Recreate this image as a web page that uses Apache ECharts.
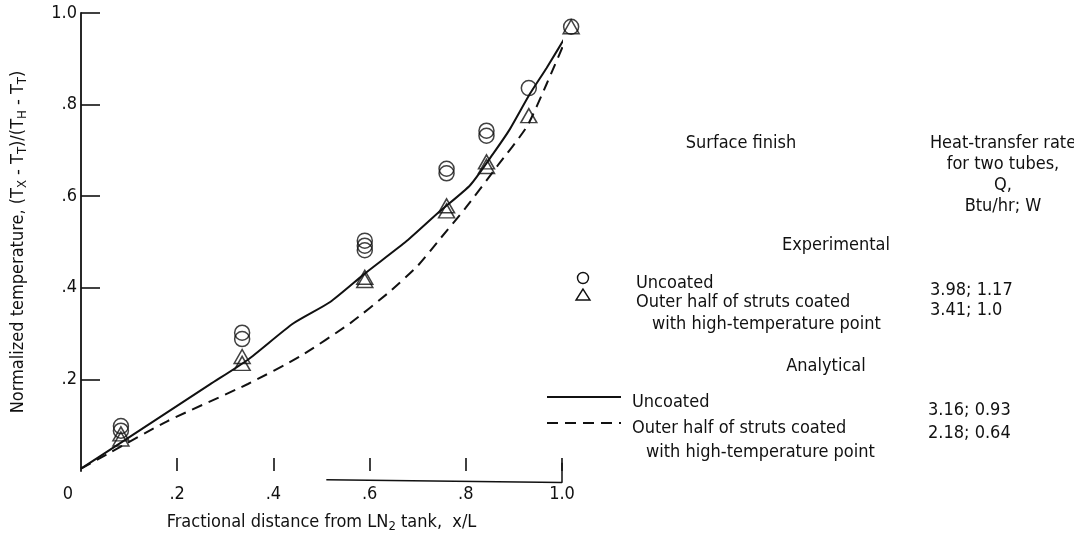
<!DOCTYPE html>
<html>
<head>
<meta charset="utf-8">
<script src="https://cdn.jsdelivr.net/npm/echarts@6/dist/echarts.min.js"></script>
<style>
  html, body { margin: 0; padding: 0; background: #fff; }
  #chart { width: 1074px; height: 538px; }
</style>
</head>
<body>
<div id="chart"></div>
<script>
// ---- data ----
const xTicks = [0, 0.2, 0.4, 0.6, 0.8, 1.0];
const yTicks = [0.2, 0.4, 0.6, 0.8, 1.0];

// Experimental, uncoated (circles): [x/L, normalized temperature]
const expUncoated = [
  [0.083, 0.098], [0.083, 0.088],
  [0.335, 0.302], [0.335, 0.288],
  [0.590, 0.503], [0.590, 0.492], [0.590, 0.482],
  [0.760, 0.660], [0.760, 0.650],
  [0.843, 0.743], [0.843, 0.732],
  [0.931, 0.836],
  [1.019, 0.970]
];
// Experimental, outer half coated (triangles)
const expCoated = [
  [0.083, 0.081], [0.083, 0.070],
  [0.335, 0.250], [0.335, 0.235],
  [0.590, 0.423], [0.590, 0.416],
  [0.760, 0.579], [0.760, 0.568],
  [0.843, 0.675], [0.843, 0.665],
  [0.931, 0.776],
  [1.019, 0.970]
];
// Analytical, uncoated (solid curve)
const anaUncoated = [
  [0, 0.005], [0.095, 0.070], [0.268, 0.189], [0.347, 0.243], [0.441, 0.322],
  [0.518, 0.369], [0.590, 0.431], [0.677, 0.502], [0.746, 0.567], [0.809, 0.624],
  [0.857, 0.693], [0.892, 0.747], [0.933, 0.823], [0.968, 0.880], [1.017, 0.965]
];
// Analytical, outer half coated (dashed curve)
const anaCoated = [
  [0, 0.005], [0.060, 0.040], [0.178, 0.108], [0.347, 0.190], [0.455, 0.250],
  [0.560, 0.323], [0.640, 0.390], [0.700, 0.448], [0.745, 0.505], [0.800, 0.575],
  [0.865, 0.665], [0.927, 0.752], [0.968, 0.845], [1.017, 0.965]
];
// partial x-axis base line drawn in the original
const xBaseline = [[0.51, -0.019], [1.0, -0.025], [1.0, 0.018]];

// legend / annotation texts
const legendHeader = ['Surface finish'];
const rateHeader = ['Heat-transfer rate', 'for two tubes,', 'Q,', 'Btu/hr; W'];
const groupTitles = ['Experimental', 'Analytical'];
const entryNames = ['Uncoated', 'Outer half of struts coated', 'with high-temperature point'];
const expRates = ['3.98; 1.17', '3.41; 1.0'];
const anaRates = ['3.16; 0.93', '2.18; 0.64'];

// ---- chart ----
const FONT = "'Liberation Sans Narrow', 'DejaVu Sans Condensed', 'Liberation Sans', sans-serif";
const FS = 18;
const chart = echarts.init(document.getElementById('chart'), null, { renderer: 'canvas' });

function tickLabel(v) {
  if (Math.abs(v) < 1e-9) return '{z|0}';
  if (Math.abs(v - 1) < 1e-9) return '1.0';
  return String(+v.toFixed(1)).replace(/^0/, '');
}

function txt(text, x, y, align) {
  return {
    type: 'text', x: x, y: y, silent: true,
    style: { text: text, font: FS + 'px ' + FONT, fill: '#111', align: align || 'left', verticalAlign: 'middle' }
  };
}

const graphics = [];
graphics.push(txt(legendHeader[0], 741, 143, 'center'));
rateHeader.forEach((t, i) => graphics.push(txt(t, 1003, 143 + i * 21, 'center')));
graphics.push(txt(groupTitles[0], 836, 245, 'center'));
graphics.push(txt(entryNames[0], 636, 283));
graphics.push(txt(entryNames[1], 636, 302));
graphics.push(txt(entryNames[2], 652, 324));
graphics.push(txt(expRates[0], 930, 290));
graphics.push(txt(expRates[1], 930, 310));
graphics.push(txt(groupTitles[1], 826, 366, 'center'));
graphics.push(txt(entryNames[0], 632, 402));
graphics.push(txt(entryNames[1], 632, 428));
graphics.push(txt(entryNames[2], 646, 452));
graphics.push(txt(anaRates[0], 928, 410));
graphics.push(txt(anaRates[1], 928, 433));
// legend symbols
graphics.push({ type: 'circle', shape: { cx: 583, cy: 278, r: 5.5 }, style: { fill: 'none', stroke: '#111', lineWidth: 1.4 }, silent: true });
graphics.push({ type: 'polygon', shape: { points: [[583, 289], [576, 300], [590, 300]] }, style: { fill: 'none', stroke: '#111', lineWidth: 1.4 }, silent: true });
graphics.push({ type: 'line', shape: { x1: 547, y1: 397, x2: 621, y2: 397 }, style: { stroke: '#111', lineWidth: 2 }, silent: true });
graphics.push({ type: 'line', shape: { x1: 547, y1: 423, x2: 621, y2: 423 }, style: { stroke: '#111', lineWidth: 2, lineDash: [11, 7] }, silent: true });

const option = {
  backgroundColor: '#ffffff',
  animation: false,
  textStyle: { fontFamily: FONT },
  grid: { left: 81, top: 13, width: 481, height: 462.5, containLabel: false },
  xAxis: {
    type: 'value', min: 0, max: 1.0, interval: 0.2,
    axisLine: { show: false },
    axisTick: { show: true, inside: true, length: 13, customValues: xTicks.slice(1), lineStyle: { color: '#111', width: 1.6 } },
    axisLabel: {
      show: true, margin: 14, color: '#111', fontSize: FS, fontFamily: FONT,
      customValues: xTicks,
      formatter: tickLabel,
      rich: { z: { fontSize: FS, fontFamily: FONT, color: '#111', padding: [0, 26, 0, 0] } }
    },
    splitLine: { show: false },
    name: 'Fractional distance from LN{sub|2} tank,  x/L',
    nameLocation: 'middle', nameGap: 40,
    nameTextStyle: {
      color: '#111', fontSize: FS, fontFamily: FONT,
      rich: { sub: { fontSize: 13, fontFamily: FONT, color: '#111', padding: [9, 0, 0, 0] } }
    }
  },
  yAxis: {
    type: 'value', min: 0, max: 1.0, interval: 0.2,
    axisLine: { show: true, lineStyle: { color: '#111', width: 1.8 } },
    axisTick: { show: true, inside: true, length: 19, customValues: yTicks, lineStyle: { color: '#111', width: 1.6 } },
    axisLabel: {
      show: true, margin: 4, color: '#111', fontSize: FS, fontFamily: FONT,
      customValues: yTicks, formatter: tickLabel, padding: [10, 0, 0, 0]
    },
    splitLine: { show: false },
    name: 'Normalized temperature, (T{sub|X} - T{sub|T})/(T{sub|H} - T{sub|T})',
    nameLocation: 'middle', nameGap: 52,
    nameTextStyle: {
      color: '#111', fontSize: 18, fontFamily: FONT,
      rich: { sub: { fontSize: 13, fontFamily: FONT, color: '#111', padding: [9, 0, 0, 0] } }
    }
  },
  graphic: graphics,
  series: [
    {
      name: 'Analytical uncoated', type: 'line', data: anaUncoated, clip: false,
      showSymbol: false, smooth: 0.2,
      lineStyle: { color: '#111', width: 2 }
    },
    {
      name: 'Analytical coated', type: 'line', data: anaCoated, clip: false,
      showSymbol: false, smooth: 0.2,
      lineStyle: { color: '#111', width: 2, type: [11, 7] }
    },
    {
      name: 'Experimental uncoated', type: 'scatter', data: expUncoated, clip: false,
      symbol: 'circle', symbolSize: 15,
      itemStyle: { color: 'rgba(0,0,0,0)', borderColor: '#111', borderWidth: 1.5 }
    },
    {
      name: 'Experimental coated', type: 'scatter', data: expCoated, clip: false,
      symbol: 'triangle', symbolSize: [16, 14],
      itemStyle: { color: 'rgba(0,0,0,0)', borderColor: '#111', borderWidth: 1.5 }
    },
    {
      name: 'x-axis base', type: 'line', data: xBaseline, clip: false,
      showSymbol: false, silent: true,
      lineStyle: { color: '#111', width: 1.5 }
    }
  ]
};
chart.setOption(option);
</script>
</body>
</html>
